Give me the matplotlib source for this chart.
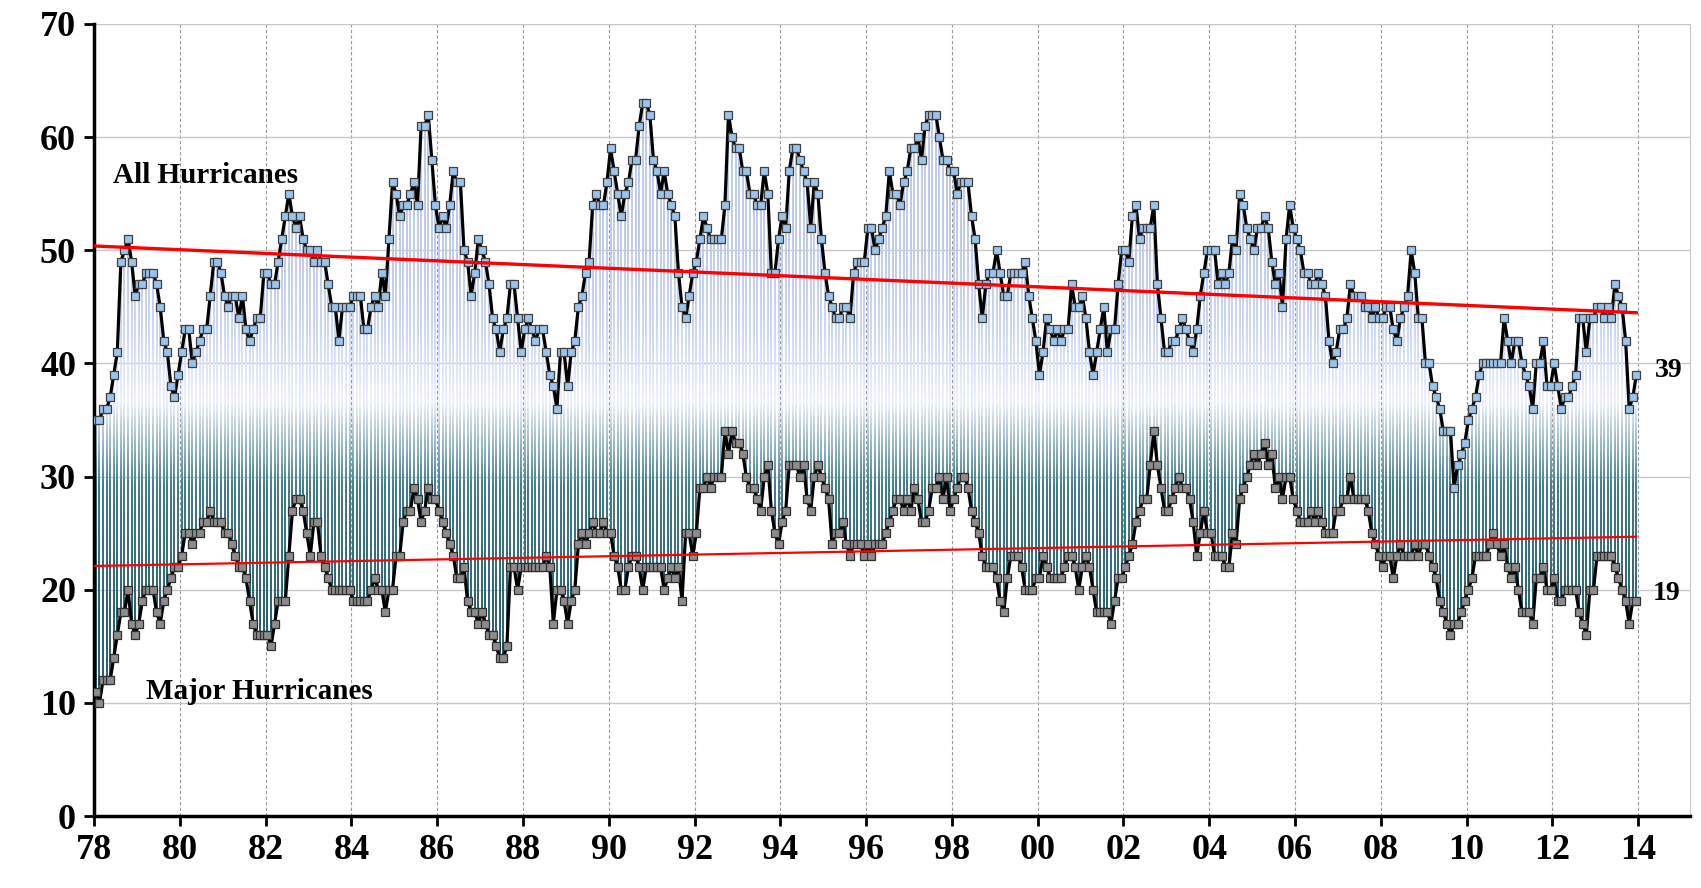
import numpy as np
import matplotlib
matplotlib.use('Agg')
import matplotlib.pyplot as plt
from matplotlib.collections import LineCollection
from matplotlib.colors import LinearSegmentedColormap

# rolling 12-month counts, monthly from Jan 1978 to Dec 2013
all_hurricanes = [
    35, 35, 36, 36, 37, 39, 41, 49, 50, 51,
    49, 46, 47, 47, 48, 48, 48, 47, 45, 42,
    41, 38, 37, 39, 41, 43, 43, 40, 41, 42,
    43, 43, 46, 49, 49, 48, 46, 45, 46, 46,
    44, 46, 43, 42, 43, 44, 44, 48, 48, 47,
    47, 49, 51, 53, 55, 53, 52, 53, 51, 50,
    50, 49, 50, 49, 49, 47, 45, 45, 42, 45,
    45, 45, 46, 46, 46, 43, 43, 45, 46, 45,
    48, 46, 51, 56, 55, 53, 54, 54, 55, 56,
    54, 61, 61, 62, 58, 54, 52, 53, 52, 54,
    57, 56, 56, 50, 49, 46, 48, 51, 50, 49,
    47, 44, 43, 41, 43, 44, 47, 47, 44, 41,
    43, 44, 43, 42, 43, 43, 41, 39, 38, 36,
    41, 41, 38, 41, 42, 45, 46, 48, 49, 54,
    55, 54, 54, 56, 59, 57, 55, 53, 55, 56,
    58, 58, 61, 63, 63, 62, 58, 57, 55, 57,
    55, 54, 53, 48, 45, 44, 46, 48, 49, 51,
    53, 52, 51, 51, 51, 51, 54, 62, 60, 59,
    59, 57, 57, 55, 55, 54, 54, 57, 55, 48,
    48, 51, 53, 52, 57, 59, 59, 58, 57, 56,
    52, 56, 55, 51, 48, 46, 45, 44, 44, 45,
    45, 44, 48, 49, 49, 49, 52, 52, 50, 51,
    52, 53, 57, 55, 55, 54, 56, 57, 59, 59,
    60, 58, 61, 62, 62, 62, 60, 58, 58, 57,
    57, 55, 56, 56, 56, 53, 51, 47, 44, 47,
    48, 48, 50, 48, 46, 46, 48, 48, 48, 48,
    49, 46, 44, 42, 39, 41, 44, 43, 42, 43,
    42, 43, 43, 47, 45, 45, 46, 44, 41, 39,
    41, 43, 45, 41, 43, 43, 47, 50, 50, 49,
    53, 54, 51, 52, 52, 52, 54, 47, 44, 41,
    41, 42, 42, 43, 44, 43, 42, 41, 43, 46,
    48, 50, 50, 50, 47, 48, 47, 48, 51, 50,
    55, 54, 52, 51, 50, 52, 52, 53, 52, 49,
    47, 48, 45, 51, 54, 52, 51, 50, 48, 48,
    47, 47, 48, 47, 46, 42, 40, 41, 43, 43,
    44, 47, 46, 46, 46, 45, 45, 44, 45, 44,
    44, 45, 45, 43, 42, 44, 45, 46, 50, 48,
    44, 44, 40, 40, 38, 37, 36, 34, 34, 34,
    29, 31, 32, 33, 35, 36, 37, 39, 40, 40,
    40, 40, 40, 40, 44, 42, 40, 42, 42, 40,
    39, 38, 36, 40, 40, 42, 38, 38, 40, 38,
    36, 37, 37, 38, 39, 44, 44, 41, 44, 44,
    45, 45, 44, 45, 44, 47, 46, 45, 42, 36,
    37, 39,
]

major_hurricanes = [
    11, 10, 12, 12, 12, 14, 16, 18, 18, 20,
    17, 16, 17, 19, 20, 20, 20, 18, 17, 19,
    20, 21, 22, 22, 23, 25, 25, 24, 25, 25,
    26, 26, 27, 26, 26, 26, 25, 25, 24, 23,
    22, 22, 21, 19, 17, 16, 16, 16, 16, 15,
    17, 19, 19, 19, 23, 27, 28, 28, 27, 25,
    23, 26, 26, 23, 22, 21, 20, 20, 20, 20,
    20, 20, 19, 19, 19, 19, 19, 20, 21, 20,
    20, 18, 20, 20, 23, 23, 26, 27, 27, 29,
    28, 26, 27, 29, 28, 28, 27, 26, 25, 24,
    23, 21, 21, 22, 19, 18, 18, 17, 18, 17,
    16, 16, 15, 14, 14, 15, 22, 22, 20, 22,
    22, 22, 22, 22, 22, 22, 23, 22, 17, 20,
    20, 19, 17, 19, 20, 24, 25, 24, 25, 26,
    25, 25, 26, 25, 25, 23, 22, 20, 20, 22,
    23, 23, 22, 20, 22, 22, 22, 22, 22, 20,
    21, 22, 21, 22, 19, 25, 25, 23, 25, 29,
    29, 30, 29, 30, 30, 30, 34, 32, 34, 33,
    33, 32, 30, 29, 29, 28, 27, 30, 31, 27,
    25, 24, 26, 27, 31, 31, 31, 30, 31, 28,
    27, 30, 31, 30, 29, 28, 24, 25, 25, 26,
    24, 23, 24, 24, 24, 23, 24, 23, 24, 24,
    24, 25, 26, 27, 28, 28, 27, 28, 27, 29,
    28, 26, 26, 27, 29, 29, 30, 28, 30, 27,
    28, 29, 30, 30, 29, 27, 26, 25, 23, 22,
    22, 22, 21, 19, 18, 21, 23, 23, 23, 22,
    20, 20, 20, 21, 21, 23, 22, 21, 21, 21,
    21, 22, 23, 23, 22, 20, 22, 23, 22, 20,
    18, 18, 18, 18, 17, 19, 21, 21, 22, 23,
    24, 26, 27, 28, 28, 31, 34, 31, 29, 27,
    27, 28, 29, 30, 29, 29, 28, 26, 23, 25,
    27, 25, 25, 23, 23, 23, 22, 22, 25, 24,
    28, 29, 30, 31, 32, 31, 32, 33, 31, 32,
    29, 30, 28, 30, 30, 28, 27, 26, 26, 26,
    27, 26, 27, 26, 25, 25, 25, 27, 27, 28,
    28, 30, 28, 28, 28, 28, 27, 25, 24, 23,
    22, 23, 23, 21, 23, 24, 23, 23, 23, 24,
    23, 24, 24, 23, 22, 21, 19, 18, 17, 16,
    17, 17, 18, 19, 20, 21, 23, 23, 23, 23,
    24, 25, 24, 23, 24, 22, 21, 22, 20, 18,
    18, 18, 17, 21, 21, 22, 20, 20, 21, 19,
    19, 20, 20, 20, 20, 18, 17, 16, 20, 20,
    23, 23, 23, 23, 23, 22, 21, 20, 19, 17,
    19, 19,
]

start_year = 1978
x_ticks = list(range(1978, 2015, 2))
x_labels = ['78', '80', '82', '84', '86', '88', '90', '92', '94', '96',
            '98', '00', '02', '04', '06', '08', '10', '12', '14']
y_ticks = [0, 10, 20, 30, 40, 50, 60, 70]

all_h = np.array(all_hurricanes, dtype=float)
maj_h = np.array(major_hurricanes, dtype=float)
x = start_year + (np.arange(len(all_h)) + 0.5) / 12.0

serif = ['Liberation Serif', 'DejaVu Serif']

fig = plt.figure(figsize=(17.01, 8.88), dpi=100)
ax = fig.add_axes([0.0553, 0.081, 0.938, 0.892])

# high-low lines between the two series, coloured by height
cmap = LinearSegmentedColormap.from_list(
    'hl', [(0.0, '#285f6e'), (0.35, '#3c7b8c'), (0.58, '#eef1ff'),
           (0.78, '#cbd6f6'), (1.0, '#bfcbee')])
segs = []
vals = []
for xi, lo, hi in zip(x, maj_h, all_h):
    edges = np.linspace(lo, hi, int((hi - lo) * 4) + 2)
    for a, b in zip(edges[:-1], edges[1:]):
        segs.append([(xi, a), (xi, b)])
        vals.append(0.5 * (a + b))
lc = LineCollection(segs, array=np.array(vals), cmap=cmap,
                    norm=plt.Normalize(18, 50), linewidths=1.4,
                    capstyle='butt', zorder=2)
ax.add_collection(lc)

ax.plot(x, all_h, color='black', lw=2.3, zorder=3)
ax.plot(x, maj_h, color='black', lw=2.3, zorder=3)
ax.plot(x, all_h, ls='none', marker='s', ms=5.8, mfc='#9cc3ea',
        mec='#404040', mew=0.9, zorder=4)
ax.plot(x, maj_h, ls='none', marker='s', ms=5.8, mfc='#8c8c8c',
        mec='#303030', mew=0.9, zorder=4)

# linear trends
p_all = np.polyfit(x, all_h, 1)
p_maj = np.polyfit(x, maj_h, 1)
xt = np.array([x[0] - 0.04, x[-1]])
ax.plot(xt, np.polyval(p_all, xt), color='#ff0000', lw=2.4, zorder=5)
ax.plot(xt, np.polyval(p_maj, xt), color='#ff0000', lw=1.6, zorder=5)

ax.set_xlim(1978, 2015.2)
ax.set_ylim(0, 70)
ax.set_yticks(y_ticks)
ax.set_xticks(x_ticks)
ax.set_xticklabels(x_labels)
ax.grid(axis='y', color='#c8c8c8', lw=1.0, zorder=0)
for xv in x_ticks[1:]:
    ax.axvline(xv, color='#9a9a9a', lw=0.8, ls=(0, (3, 2)), zorder=1)

ax.spines['top'].set_visible(False)
ax.spines['right'].set_color('#c8c8c8')
ax.spines['left'].set_linewidth(2.5)
ax.spines['bottom'].set_linewidth(2.5)
ax.tick_params(axis='both', direction='out', length=7, width=2, pad=6)
for lab in ax.get_xticklabels() + ax.get_yticklabels():
    lab.set_fontfamily(serif)
    lab.set_fontweight('bold')
    lab.set_fontsize(26)

ax.text(1978.45, 56.6, 'All Hurricanes', family=serif, fontsize=21,
        fontweight='bold', va='center', ha='left', zorder=6)
ax.text(1979.2, 11.0, 'Major Hurricanes', family=serif, fontsize=21,
        fontweight='bold', va='center', ha='left', zorder=6)
ax.text(2014.38, all_h[-1] + 0.4, f'{int(all_h[-1])}', family=serif,
        fontsize=20, fontweight='bold', va='center', ha='left', zorder=6)
ax.text(2014.33, maj_h[-1] + 0.7, f'{int(maj_h[-1])}', family=serif,
        fontsize=20, fontweight='bold', va='center', ha='left', zorder=6)

fig.savefig('out.png', dpi=100)
